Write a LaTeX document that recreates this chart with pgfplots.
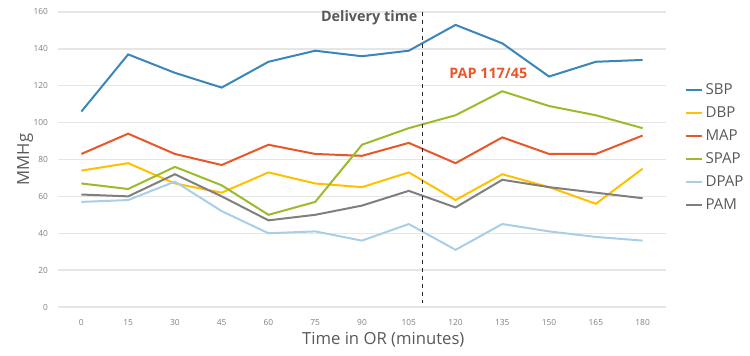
\documentclass[border=0pt]{standalone}
\usepackage{pgfplots}
\pgfplotsset{compat=1.18}
\usepackage{fontspec}
\setmainfont{Open Sans}
\definecolor{cSBP}{HTML}{3A86B9}
\definecolor{cDBP}{HTML}{FFC000}
\definecolor{cMAP}{HTML}{E8562A}
\definecolor{cSPAP}{HTML}{9BBB2A}
\definecolor{cDPAP}{HTML}{A8CFE6}
\definecolor{cPAM}{HTML}{7F7F7F}
\definecolor{txt}{HTML}{595959}
\definecolor{tick}{HTML}{808080}
\definecolor{gridc}{HTML}{E6E6E6}
\begin{document}
\begin{tikzpicture}
\useasboundingbox (-43.5pt,-36.75pt) rectangle (519pt,230.25pt);
\begin{axis}[
  at={(0,0)}, anchor=south west,
  scale only axis, width=456pt, height=221.25pt,
  xmin=-0.5, xmax=12.5, ymin=0, ymax=160,
  xtick={0,...,12},
  xticklabels={0,15,30,45,60,75,90,105,120,135,150,165,180},
  ytick={0,20,...,160},
  axis line style={draw=none},
  major tick length=0pt,
  ymajorgrids, grid style={gridc, line width=1pt},
  tick label style={font=\fontsize{6.3}{7}\selectfont, text=tick},
  /pgf/number format/assume math mode=true,
  xticklabel style={yshift=-6pt},
  yticklabel style={xshift=-4pt},
  xlabel={Time in OR (minutes)},
  ylabel={MMHg},
  label style={font=\fontsize{12.5}{14}\selectfont, text=txt},
  xlabel style={at={(axis description cs:0.535,-0.112)}, anchor=center},
  ylabel style={at={(axis description cs:-0.054,0.5)}, anchor=center},
  legend style={at={(axis description cs:1.024,0.775)}, anchor=north west, draw=none, fill=none,
    font=\fontsize{11.3}{13}\selectfont, text=txt, row sep=3.6pt,
    /tikz/every even column/.append style={column sep=0pt}},
  legend cell align=left,
  legend image code/.code={\draw[#1, line width=1.5pt] (0pt,0pt) -- (12pt,0pt);},
  every axis plot/.append style={line width=1.5pt, mark=none},
  clip=false,
]
\addplot[cSBP] coordinates {(0,106)(1,137)(2,127)(3,119)(4,133)(5,139)(6,136)(7,139)(8,153)(9,143)(10,125)(11,133)(12,134)};
\addplot[cDBP] coordinates {(0,74)(1,78)(2,67)(3,62)(4,73)(5,67)(6,65)(7,73)(8,58)(9,72)(10,65)(11,56)(12,75)};
\addplot[cMAP] coordinates {(0,83)(1,94)(2,83)(3,77)(4,88)(5,83)(6,82)(7,89)(8,78)(9,92)(10,83)(11,83)(12,93)};
\addplot[cSPAP] coordinates {(0,67)(1,64)(2,76)(3,66)(4,50)(5,57)(6,88)(7,97)(8,104)(9,117)(10,109)(11,104)(12,97)};
\addplot[cDPAP] coordinates {(0,57)(1,58)(2,68)(3,52)(4,40)(5,41)(6,36)(7,45)(8,31)(9,45)(10,41)(11,38)(12,36)};
\addplot[cPAM] coordinates {(0,61)(1,60)(2,72)(3,60)(4,47)(5,50)(6,55)(7,63)(8,54)(9,69)(10,65)(11,62)(12,59)};
\legend{SBP,DBP,MAP,SPAP,DPAP,PAM}
\draw[black!85, dashed, line width=1.2pt] (axis cs:7.29,160) -- (axis cs:7.29,2);
\node[anchor=east, font=\bfseries\fontsize{10.8}{12}\selectfont, text=txt, inner sep=1pt] at (axis cs:7.22,157) {Delivery time};
\node[anchor=west, font=\bfseries\fontsize{10.8}{12}\selectfont, text=cMAP, inner sep=0pt] at (axis cs:7.86,126.6) {PAP 117/45};
\end{axis}
\end{tikzpicture}
\end{document}
